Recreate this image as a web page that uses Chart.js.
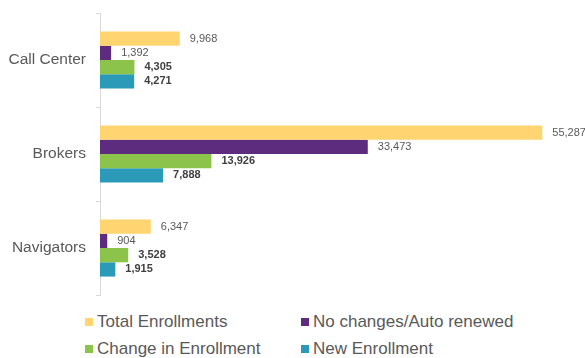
<!DOCTYPE html>
<html>
<head>
<meta charset="utf-8">
<script src="https://cdn.jsdelivr.net/npm/chart.js@4"></script>
<style>
  html, body { margin: 0; padding: 0; background: #fff; }
  #wrap { position: relative; width: 585px; height: 358px; font-family: 'Liberation Sans', Arial, sans-serif; }
  #chartBox { position: absolute; left: 0; top: 0; width: 585px; height: 300px; }
  #legenda {
    position: absolute; left: 85px; top: 308px;
    display: grid; grid-template-columns: 216px auto; grid-auto-rows: 27px;
    font-size: 17px; color: #595959;
  }
  #legenda .item { display: flex; align-items: center; white-space: nowrap; }
  #legenda .caixa { width: 8px; height: 8px; margin-right: 4px; flex: none; }
</style>
</head>
<body>
<div id="wrap">
  <div id="chartBox"><canvas id="graficoBarras"></canvas></div>
  <div id="legenda"></div>
</div>
<script>
const categorias = ['Call Center', 'Brokers', 'Navigators'];
const nomesSeries = ['Total Enrollments', 'No changes/Auto renewed', 'Change in Enrollment', 'New Enrollment'];
const totalInscricoes = [9968, 55287, 6347];
const semMudancas = [1392, 33473, 904];
const mudancaInscricao = [4305, 13926, 3528];
const novaInscricao = [4271, 7888, 1915];
const cores = ['#ffd471', '#5e2c7e', '#8cc34a', '#2a9ab8'];
const rotulosNegrito = [false, false, true, true];

const valoresSeries = [totalInscricoes, semMudancas, mudancaInscricao, novaInscricao];
const fonte = "'Liberation Sans', Arial, sans-serif";

// escreve o valor ao lado de cada barra
const rotulosValores = {
    id: 'rotulosValores',
    afterDatasetsDraw(chart) {
        const ctx = chart.ctx;
        ctx.save();
        ctx.textBaseline = 'middle';
        ctx.textAlign = 'left';
        chart.data.datasets.forEach((ds, i) => {
            const meta = chart.getDatasetMeta(i);
            ctx.font = (rotulosNegrito[i] ? 'bold ' : '') + '11px ' + fonte;
            ctx.fillStyle = rotulosNegrito[i] ? '#404040' : '#595959';
            meta.data.forEach((barra, j) => {
                ctx.fillText(ds.data[j].toLocaleString('en-US'), barra.x + 10, barra.y);
            });
        });
        ctx.restore();
    }
};

const data = {
    labels: categorias,
    datasets: nomesSeries.map((nome, i) => ({
        label: nome,
        data: valoresSeries[i],
        backgroundColor: cores[i],
        categoryPercentage: 0.608,
        barPercentage: 1
    }))
};

const options = {
    indexAxis: 'y',
    responsive: false,
    maintainAspectRatio: false,
    animation: false,
    layout: { padding: { top: 13, bottom: 5, right: 5, left: 0 } },
    plugins: { legend: { display: false }, tooltip: { enabled: false } },
    scales: {
        x: { display: false, min: 0, max: 60000 },
        y: {
            // largura fixa e sem folga extra em cima/embaixo
            afterFit(axis) {
                axis.width = 100;
                axis.paddingTop = 0;
                axis.paddingBottom = 0;
            },
            border: { color: '#d9d9d9' },
            grid: { drawOnChartArea: false, color: '#d9d9d9', tickLength: 4 },
            ticks: { color: '#595959', padding: 10, font: { family: fonte, size: 15.5 } }
        }
    }
};

const canvas = document.getElementById('graficoBarras');
canvas.width = 585;
canvas.height = 300;
new Chart(canvas.getContext('2d'), { type: 'bar', data, options, plugins: [rotulosValores] });

// legenda em duas colunas
const legenda = document.getElementById('legenda');
nomesSeries.forEach((nome, i) => {
    const item = document.createElement('div');
    item.className = 'item';
    const caixa = document.createElement('span');
    caixa.className = 'caixa';
    caixa.style.background = cores[i];
    item.appendChild(caixa);
    item.appendChild(document.createTextNode(nome));
    legenda.appendChild(item);
});
</script>
</body>
</html>
